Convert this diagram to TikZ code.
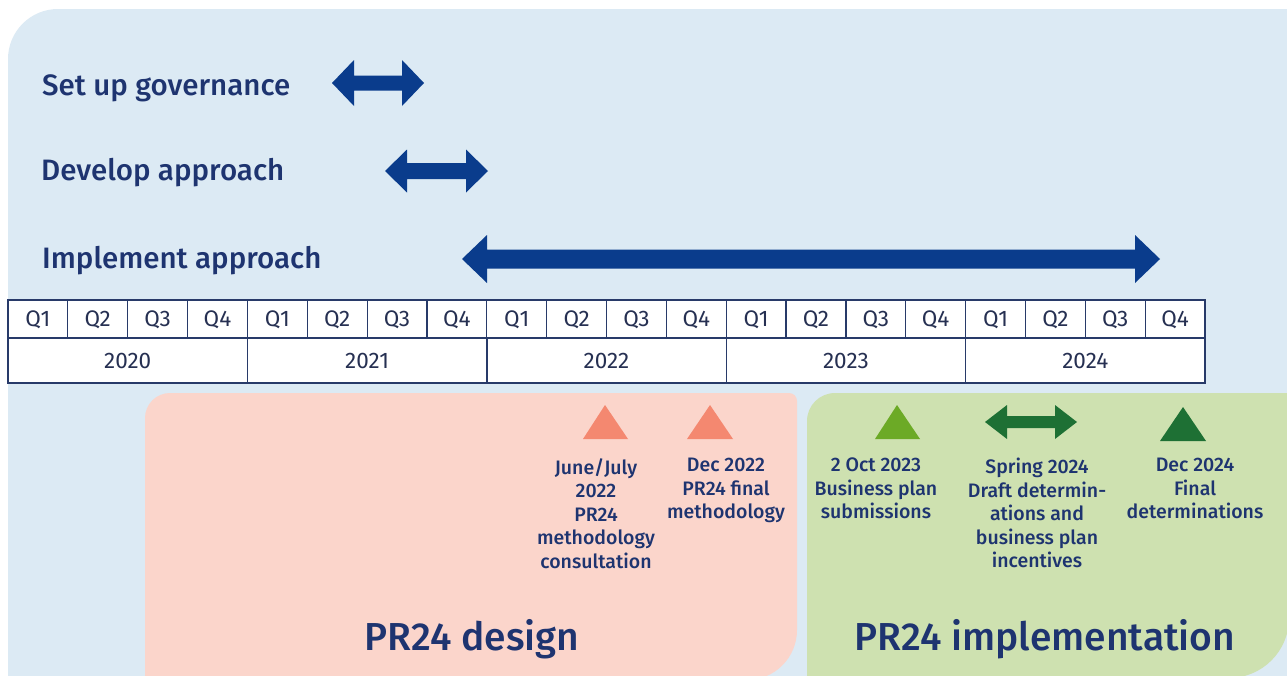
\documentclass[tikz,border=0pt]{standalone}
\usepackage{fontspec}
\setmainfont{Fira Sans}
\newfontfamily\medfont{Fira Sans Medium}
\definecolor{bgblue}{RGB}{220,234,244}
\definecolor{pinkbg}{RGB}{251,213,203}
\definecolor{greenbg}{RGB}{206,225,176}
\definecolor{navy}{RGB}{30,52,112}
\definecolor{tabtext}{RGB}{38,48,82}
\definecolor{tabline}{RGB}{40,58,105}
\definecolor{arrblue}{RGB}{10,60,140}
\definecolor{salmon}{RGB}{244,136,112}
\definecolor{lgreen}{RGB}{108,170,38}
\definecolor{dgreen}{RGB}{30,112,52}
\newcommand{\dblarr}[7]{%
  \fill[#7] (#1,#3) -- ({#1+#4},{#3-#5}) -- ({#1+#4},{#3-#6}) -- ({#2-#4},{#3-#6})
    -- ({#2-#4},{#3-#5}) -- (#2,#3) -- ({#2-#4},{#3+#5}) -- ({#2-#4},{#3+#6})
    -- ({#1+#4},{#3+#6}) -- ({#1+#4},{#3+#5}) -- cycle;}
\tikzset{
  heading/.style={anchor=base west, inner sep=0, text=navy, font=\medfont\fontsize{29.5}{34}\selectfont},
  qlabel/.style={inner sep=0, text=tabtext, font=\fontsize{22.5}{26}\selectfont},
  evtext/.style={anchor=north, inner sep=0, align=center, text=navy, font=\medfont\fontsize{19.5}{23.5}\selectfont},
  phase/.style={anchor=base, inner sep=0, text=navy, font=\medfont\fontsize{39}{44}\selectfont},
}
\begin{document}
\begin{tikzpicture}[x=1pt,y=-1pt]
\useasboundingbox (0,0) rectangle (1287,675);
\fill[white] (0,0) rectangle (1287,675);
% background
\fill[bgblue] (8,700) -- (8,59) arc(180:270:50) -- (1300,9) -- (1300,700) -- cycle;
% pink phase
\fill[pinkbg] (145,700) -- (145,418) arc(180:270:25) -- (789,393) arc(270:360:8)
  -- (797,630) arc(0:90:50) -- cycle;
% green phase
\fill[greenbg] (807,700) -- (807,421) arc(180:270:28) -- (1300,393) -- (1300,393)
  -- (1289,618) arc(0:90:60) -- cycle;

% headings and arrows
\node[heading] (gov) at (42,95) {Set up governance};
\node[heading] (dev) at (41,180) {Develop approach};
\node[heading] (imp) at (42,268) {Implement approach};
\dblarr{332}{424}{83}{22}{23}{7.5}{arrblue}
\dblarr{385}{488}{171}{22}{21.5}{8}{arrblue}
\dblarr{462}{1160}{259}{25}{24}{9.5}{arrblue}

% table
\fill[white] (8,300) rectangle (1205,383);
\foreach \i in {1,...,19} {
  \draw[tabline, line width=1.2] ({8+59.85*\i},300) -- ({8+59.85*\i},338);
}
\foreach \i in {1,...,4} {
  \draw[tabline, line width=1.4] ({8+239.4*\i},338) -- ({8+239.4*\i},383);
}
\draw[tabline, line width=1.6] (8,338) -- (1205,338);
\draw[tabline, line width=1.6] (8,300) rectangle (1205,383);
\foreach \i in {0,...,19} {
  \pgfmathtruncatemacro{\q}{mod(\i,4)+1}
  \node[qlabel] (q\i) at ({8+59.85*(\i+0.5)},320) {Q\q};
}
\foreach \yr [count=\j from 0] in {2020,2021,2022,2023,2024} {
  \node[qlabel] (yr\yr) at ({8+239.4*(\j+0.5)},361) {\yr};
}

% events
\fill[salmon] (583,439) -- (605,405) -- (628,439) -- cycle;
\fill[salmon] (687,439) -- (710,405) -- (733,439) -- cycle;
\fill[lgreen] (875,439) -- (897,405) -- (920,439) -- cycle;
\fill[dgreen] (1160,441) -- (1183,407) -- (1206,441) -- cycle;
\dblarr{985}{1077}{422}{22}{17}{6}{dgreen}

\node[evtext] (e1) at (596,458) {June/July\\2022\\PR24\\methodology\\consultation};
\node[evtext] (e2) at (726,458) {Dec 2022\\PR24 final\\methodology};
\node[evtext] (e3) at (876,458) {2 Oct 2023\\Business plan\\submissions};
\node[evtext] (e4) at (1037,458) {Spring 2024\\Draft determin-\\ations and\\business plan\\incentives};
\node[evtext] (e5) at (1195,458) {Dec 2024\\Final\\determinations};

\node[phase] (design) at (472,650) {PR24 design};
\node[phase] (impl) at (1045,650) {PR24 implementation};
\end{tikzpicture}
\end{document}
